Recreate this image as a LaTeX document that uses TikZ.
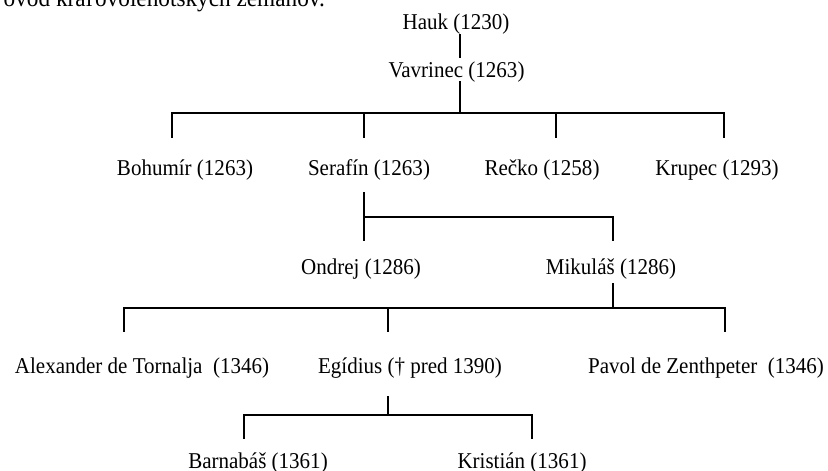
\documentclass[tikz,border=0pt]{standalone}
\usepackage{fontspec}
\setmainfont[FakeStretch=0.93]{Liberation Serif}
\begin{document}
\begin{tikzpicture}[x=1bp,y=-1bp,
  lbl/.style={anchor=base,inner sep=0pt,font=\fontsize{22.6bp}{27bp}\selectfont},
  conn/.style={line width=1.4bp,line cap=rect,line join=miter}]
\useasboundingbox (0,0) rectangle (828,471);
% title (cut off at top)
\node[anchor=base east,inner sep=0pt,font=\fontsize{25bp}{30bp}\selectfont] (title) at (325,7) {ovod kráľovolehotských zemanov.};
% nodes
\node[lbl] (hauk) at (456,30) {Hauk (1230)};
\node[lbl] (vav) at (456.5,78) {Vavrinec (1263)};
\node[lbl] (boh) at (185,176) {Bohumír (1263)};
\node[lbl] (ser) at (369,176) {Serafín (1263)};
\node[lbl] (rec) at (542,176) {Rečko (1258)};
\node[lbl] (kru) at (717,176) {Krupec (1293)};
\node[lbl] (ond) at (361,275) {Ondrej (1286)};
\node[lbl] (mik) at (611,275) {Mikuláš (1286)};
\node[lbl] (ale) at (142,374) {Alexander de Tornalja\ \ (1346)};
\node[lbl] (egi) at (410,374) {Egídius († pred 1390)};
\node[lbl] (pav) at (706,374) {Pavol de Zenthpeter\ \ (1346)};
\node[lbl] (bar) at (258,468) {Barnabáš (1361)};
\node[lbl] (kri) at (522,468) {Kristián (1361)};
% connector end points
\coordinate (haukS) at (460,35);
\coordinate (vavN) at (460,57);
\coordinate (vavS) at (460,82);
\coordinate (j1) at (460,113);
\coordinate (j1a) at (172,113);
\coordinate (j1b) at (364,113);
\coordinate (j1c) at (556,113);
\coordinate (j1d) at (724,113);
\coordinate (bohN) at (172,137);
\coordinate (serN) at (364,137);
\coordinate (recN) at (556,137);
\coordinate (kruN) at (724,137);
\coordinate (serS) at (364,193);
\coordinate (j2a) at (364,217);
\coordinate (j2b) at (613,217);
\coordinate (ondN) at (364,240);
\coordinate (mikN) at (613,240);
\coordinate (mikS) at (613,284);
\coordinate (j3) at (613,308);
\coordinate (j3a) at (124,308);
\coordinate (j3b) at (388,308);
\coordinate (j3c) at (725,308);
\coordinate (aleN) at (124,331);
\coordinate (egiN) at (388,331);
\coordinate (pavN) at (725,331);
\coordinate (egiS) at (388,397);
\coordinate (j4) at (388,415);
\coordinate (j4a) at (244,415);
\coordinate (j4b) at (532,415);
\coordinate (barN) at (244,438);
\coordinate (kriN) at (532,438);
% connectors
\draw[conn] (haukS) -- (vavN);
\draw[conn] (vavS) -- (j1);
\draw[conn] (bohN) -- (j1a) -- (j1d) -- (kruN);
\draw[conn] (j1b) -- (serN);
\draw[conn] (j1c) -- (recN);
\draw[conn] (serS) -- (ondN);
\draw[conn] (j2a) -- (j2b) -- (mikN);
\draw[conn] (mikS) -- (j3);
\draw[conn] (aleN) -- (j3a) -- (j3c) -- (pavN);
\draw[conn] (j3b) -- (egiN);
\draw[conn] (egiS) -- (j4);
\draw[conn] (barN) -- (j4a) -- (j4b) -- (kriN);
\end{tikzpicture}
\end{document}
